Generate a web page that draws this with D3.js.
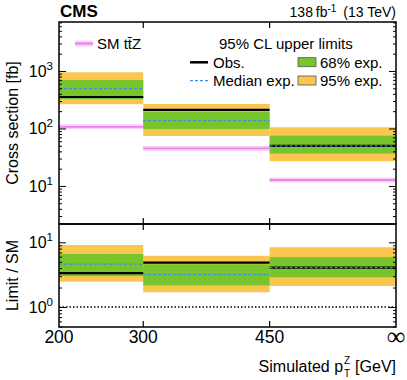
<!DOCTYPE html>
<html>
<head>
<meta charset="utf-8">
<title></title>
<script src="https://cdn.jsdelivr.net/npm/d3@7"></script>
<style>
body{margin:0;background:#fff;}
text{font-family:"Liberation Sans",Arial,sans-serif;fill:#000;}
</style>
</head>
<body>
<svg id="svg1" width="407" height="380"></svg>
<script>
// bin edges (GeV), last edge is infinity -> drawn as 600
var edges=[200,300,450,600];
var edgeLabels=['200','300','450','\u221E'];

// cross section limits [fb]
var obs=[353,210,50];
var median=[492,137,50];
var lo68=[322,98,36.5], hi68=[697,196,75];
var lo95=[264,74,27], hi95=[949,267,105];
var smXsec=[107,45,12.7];

// limit / SM
var rObs=[3.35,4.84,4.05];
var rMedian=[4.6,3.16,4.05];
var rLo68=[3.0,2.16,2.88], rHi68=[6.6,4.57,5.9];
var rLo95=[2.46,1.69,2.11], rHi95=[9.1,6.2,8.4];

var green='#78c42c', orange='#f9c652', blue='#3a8fe0', pink='#ee82ee', pinkBand='#f8d0f8';

var svg=d3.select('#svg1');
var L=59, R=396, T1=22, B1=224, B2=327;

var x=d3.scaleLinear().domain([200,600]).range([L,R]);
var y1=d3.scaleLog().domain([2.18,7110]).range([B1,T1]);
var y2=d3.scaleLog().domain([0.491,19.2]).range([B2,B1]);

var bins=d3.range(3);

function drawPanel(y,lo95v,hi95v,lo68v,hi68v,medv,obsv){
  var g=svg.append('g');
  g.selectAll('.b95').data(bins).enter().append('rect')
    .attr('x',function(i){return x(edges[i]);})
    .attr('width',function(i){return x(edges[i+1])-x(edges[i]);})
    .attr('y',function(i){return y(hi95v[i]);})
    .attr('height',function(i){return y(lo95v[i])-y(hi95v[i]);})
    .attr('fill',orange);
  g.selectAll('.b68').data(bins).enter().append('rect')
    .attr('x',function(i){return x(edges[i]);})
    .attr('width',function(i){return x(edges[i+1])-x(edges[i]);})
    .attr('y',function(i){return y(hi68v[i]);})
    .attr('height',function(i){return y(lo68v[i])-y(hi68v[i]);})
    .attr('fill',green);
  g.selectAll('.obs').data(bins).enter().append('line')
    .attr('x1',function(i){return x(edges[i]);})
    .attr('x2',function(i){return x(edges[i+1]);})
    .attr('y1',function(i){return y(obsv[i]);})
    .attr('y2',function(i){return y(obsv[i]);})
    .attr('stroke','#000').attr('stroke-width',2.2);
  g.selectAll('.med').data(bins).enter().append('line')
    .attr('x1',function(i){return x(edges[i]);})
    .attr('x2',function(i){return x(edges[i+1]);})
    .attr('y1',function(i){return y(medv[i]);})
    .attr('y2',function(i){return y(medv[i]);})
    .attr('stroke',blue).attr('stroke-width',1.3).attr('stroke-dasharray','3,2');
}

// SM prediction lines (top panel)
var gsm=svg.append('g');
gsm.selectAll('.smb').data(bins).enter().append('line')
  .attr('x1',function(i){return x(edges[i]);})
  .attr('x2',function(i){return x(edges[i+1]);})
  .attr('y1',function(i){return y1(smXsec[i]);})
  .attr('y2',function(i){return y1(smXsec[i]);})
  .attr('stroke',pinkBand).attr('stroke-width',5);
gsm.selectAll('.sml').data(bins).enter().append('line')
  .attr('x1',function(i){return x(edges[i]);})
  .attr('x2',function(i){return x(edges[i+1]);})
  .attr('y1',function(i){return y1(smXsec[i]);})
  .attr('y2',function(i){return y1(smXsec[i]);})
  .attr('stroke',pink).attr('stroke-width',1.8);

drawPanel(y1,lo95,hi95,lo68,hi68,median,obs);
drawPanel(y2,rLo95,rHi95,rLo68,rHi68,rMedian,rObs);

// SM = 1 reference line
svg.append('line').attr('x1',L).attr('x2',R).attr('y1',y2(1)).attr('y2',y2(1))
  .attr('stroke','#000').attr('stroke-width',1.3).attr('stroke-dasharray','1.5,2');

// y axes: ticks inside on both sides
function yAxes(y){
  var minor=y.ticks();
  var major=minor.filter(function(v){return Math.abs(Math.log10(v)-Math.round(Math.log10(v)))<1e-6;});
  var minorOnly=minor.filter(function(v){return major.indexOf(v)<0;});
  [[L,d3.axisLeft],[R,d3.axisRight]].forEach(function(s){
    var ga=svg.append('g').attr('transform','translate('+s[0]+',0)')
      .call(s[1](y).tickValues(minorOnly).tickSize(-3).tickFormat(''));
    ga.select('.domain').remove();
    var gb=svg.append('g').attr('transform','translate('+s[0]+',0)')
      .call(s[1](y).tickValues(major).tickSize(-7).tickFormat(''));
    gb.select('.domain').remove();
  });
  major.forEach(function(v){
    var t=svg.append('text').attr('x',53).attr('y',y(v)+6).attr('text-anchor','end')
      .style('font-size','16px');
    t.append('tspan').text('10');
    t.append('tspan').attr('dy',-7).style('font-size','11.5px').text(Math.round(Math.log10(v)));
  });
}
yAxes(y1);
yAxes(y2);

// x ticks
var inner=edges.slice(1,3);
function xTicks(yy,dir){
  svg.selectAll(null).data(inner).enter().append('line')
    .attr('x1',function(d){return x(d);}).attr('x2',function(d){return x(d);})
    .attr('y1',yy).attr('y2',yy+dir*6).attr('stroke','#000').attr('stroke-width',1.2);
}
xTicks(T1,1); xTicks(B1,1); xTicks(B1,-1); xTicks(B2,-1);

// frames
svg.append('rect').attr('x',L).attr('y',T1).attr('width',R-L).attr('height',B1-T1)
  .attr('fill','none').attr('stroke','#000').attr('stroke-width',1.5);
svg.append('rect').attr('x',L).attr('y',B1).attr('width',R-L).attr('height',B2-B1)
  .attr('fill','none').attr('stroke','#000').attr('stroke-width',1.5);

// x tick labels
svg.selectAll('.xl').data(edges).enter().append('text')
  .attr('x',function(d){return x(d);}).attr('y',function(d,i){return i==3?345:343;})
  .attr('text-anchor','middle')
  .style('font-size',function(d,i){return i==3?'26px':'17.5px';})
  .style('font-family',function(d,i){return i==3?'"DejaVu Sans"':null;})
  .style('font-weight',function(d,i){return i==3?'200':null;})
  .text(function(d,i){return edgeLabels[i];});

// axis titles
svg.append('text').attr('transform','translate(18,'+((T1+B1)/2)+') rotate(-90)')
  .attr('text-anchor','middle').style('font-size','16px').text('Cross section [fb]');
svg.append('text').attr('transform','translate(18,'+((B1+B2)/2)+') rotate(-90)')
  .attr('text-anchor','middle').style('font-size','16px').text('Limit / SM');

var xt=svg.append('g');
var t1=xt.append('text').attr('x',0).attr('y',372).style('font-size','16px').text('Simulated p');
var w1=t1.node().getComputedTextLength();
xt.append('text').attr('x',w1+1).attr('y',364).style('font-size','10px').text('Z');
xt.append('text').attr('x',w1+1).attr('y',377).style('font-size','10px').text('T');
var t3=xt.append('text').attr('x',w1+12).attr('y',372).style('font-size','16px').text('[GeV]');
var wTot=w1+12+t3.node().getComputedTextLength();
xt.attr('transform','translate('+(R-wTot)+',0)');

// header
svg.append('text').attr('x',L+1).attr('y',17).style('font-size','17px').style('font-weight','bold').text('CMS');
var hd=svg.append('text').attr('x',R).attr('y',17).attr('text-anchor','end').style('font-size','14px');
hd.append('tspan').text('138\u2009fb');
hd.append('tspan').attr('dy',-5).style('font-size','10px').text('-1');
hd.append('tspan').attr('dy',5).text('\u2002(13 TeV)');

// legend
var lg=svg.append('g');
lg.append('line').attr('x1',75).attr('x2',93).attr('y1',43.5).attr('y2',43.5).attr('stroke',pinkBand).attr('stroke-width',6);
lg.append('line').attr('x1',75).attr('x2',93).attr('y1',43.5).attr('y2',43.5).attr('stroke',pink).attr('stroke-width',2.2);
lg.append('text').attr('x',97).attr('y',49).style('font-size','15px').text('SM t\u0074\u0304Z');
lg.append('text').attr('x',219).attr('y',49).style('font-size','15px').text('95% CL upper limits');
lg.append('line').attr('x1',190).attr('x2',208).attr('y1',62.3).attr('y2',62.3).attr('stroke','#000').attr('stroke-width',2.5);
lg.append('text').attr('x',213).attr('y',67.5).style('font-size','15px').text('Obs.');
lg.append('line').attr('x1',190).attr('x2',208).attr('y1',80.7).attr('y2',80.7).attr('stroke',blue).attr('stroke-width',1.3).attr('stroke-dasharray','3,2');
lg.append('text').attr('x',213).attr('y',86).style('font-size','15px').text('Median exp.');
lg.append('rect').attr('x',298).attr('y',57.7).attr('width',18).attr('height',9).attr('fill',green).attr('stroke','#555').attr('stroke-width',0.8);
lg.append('text').attr('x',320).attr('y',67.5).style('font-size','15px').text('68% exp.');
lg.append('rect').attr('x',298).attr('y',76).attr('width',18).attr('height',9).attr('fill',orange).attr('stroke','#555').attr('stroke-width',0.8);
lg.append('text').attr('x',320).attr('y',86).style('font-size','15px').text('95% exp.');
</script>
</body>
</html>
